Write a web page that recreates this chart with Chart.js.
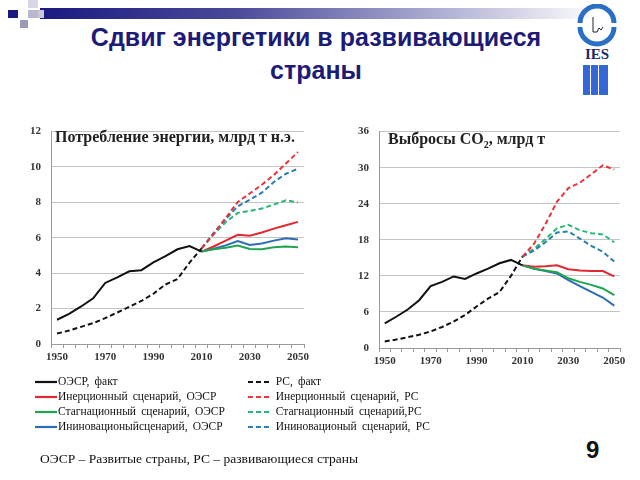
<!DOCTYPE html>
<html>
<head>
<meta charset="utf-8">
<script src="https://cdn.jsdelivr.net/npm/chart.js@4.4.1/dist/chart.umd.min.js"></script>
<style>
  html, body { margin:0; padding:0; background:#fff; }
  body { width:640px; height:480px; position:relative; overflow:hidden; font-family:"Liberation Serif", serif; }
  .abs { position:absolute; }
  #title { left:40px; width:552px; top:21px; text-align:center; font-family:"Liberation Sans", Arial, sans-serif; font-weight:bold; font-size:25px; line-height:33px; color:#1c1c78; }
  .ctitle { font-family:"Liberation Serif", serif; font-weight:bold; color:#222; white-space:nowrap; }
  .leg { font-size:11.5px; color:#111; white-space:nowrap; height:14px; line-height:14px; }
  .leg svg { vertical-align:middle; margin-right:1px; }
</style>
</head>
<body>
<script>
// ---------- data ----------
const years = ['1950','1955','1960','1965','1970','1975','1980','1985','1990','1995','2000','2005','2010','2015','2020','2025','2030','2035','2040','2045','2050'];
const xTickLabels = ['1950','1970','1990','2010','2030','2050'];
const energyTicks = [0,2,4,6,8,10,12];
const co2Ticks = [0,6,12,18,24,30,36];

// Energy consumption, bn toe (history 1950-2010)
const oecdFactE = [1.37,1.70,2.12,2.58,3.45,3.76,4.11,4.17,4.61,4.96,5.35,5.53,5.22];
const pcFactE   = [0.59,0.76,0.97,1.18,1.46,1.78,2.10,2.43,2.84,3.36,3.67,4.60,5.40];
// scenarios 2010-2050
const oecdInertE = [5.22,5.51,5.84,6.17,6.12,6.30,6.52,6.71,6.90];
const oecdStagE  = [5.22,5.35,5.44,5.56,5.37,5.36,5.46,5.51,5.46];
const oecdInnovE = [5.22,5.38,5.57,5.81,5.60,5.68,5.84,5.98,5.90];
const pcInertE   = [5.40,6.21,7.12,8.02,8.50,9.00,9.55,10.20,10.85];
const pcStagE    = [5.40,6.20,6.88,7.41,7.52,7.65,7.88,8.12,8.00];
const pcInnovE   = [5.40,6.28,7.05,7.78,8.15,8.55,9.15,9.62,9.90];

// CO2 emissions, bn t (history 1950-2010)
const oecdFactC = [4.1,5.2,6.4,7.95,10.3,11.0,11.9,11.5,12.4,13.2,14.1,14.65,13.75];
const pcFactC   = [1.1,1.4,1.8,2.2,2.75,3.5,4.4,5.5,6.9,8.2,9.3,12.0,15.2];
// scenarios 2010-2050
const oecdInertC = [13.75,13.5,13.6,13.75,13.1,12.9,12.8,12.8,11.9];
const oecdStagC  = [13.75,13.2,12.9,12.6,11.6,11.0,10.5,9.9,8.8];
const oecdInnovC = [13.75,13.2,12.8,12.4,11.3,10.3,9.34,8.4,7.05];
const pcInertC   = [15.2,17.3,20.6,24.3,26.6,27.5,28.9,30.4,29.7];
const pcStagC    = [15.2,16.5,18.1,19.9,20.5,19.6,19.1,18.9,17.6];
const pcInnovC   = [15.2,16.2,17.6,19.2,19.4,18.2,17.0,16.0,14.4];

const legendLeft  = ['ОЭСР, факт','Инерционный сценарий, ОЭСР','Стагнационный сценарий, ОЭСР','Ининовационыйсценарий, ОЭСР'];
const legendRight = ['РС, факт','Инерционный сценарий, РС','Стагнационный сценарий,РС','Ининовационый сценарий, РС'];
</script>

<!-- header decoration -->
<div class="abs" style="left:40px;top:8px;width:560px;height:11px;background:linear-gradient(to right,#1a1a80 0%,#4a4a9a 35%,#b8b8d8 75%,#ffffff 100%);"></div>
<div class="abs" style="left:8px;top:10px;width:10px;height:8px;background:#1a1a80;"></div>
<div class="abs" style="left:28px;top:0px;width:10px;height:8px;background:#d8d8e4;"></div>
<div class="abs" style="left:28px;top:10px;width:10px;height:8px;background:#b8b8cc;"></div>
<div class="abs" style="left:20px;top:20px;width:8px;height:8px;background:#9a9ab4;"></div>
<div class="abs" style="left:38px;top:10px;width:6px;height:8px;background:#c8c8d8;"></div>

<!-- logo -->
<svg class="abs" style="left:575px;top:4px" width="46" height="94" viewBox="0 0 46 94">
  <path d="M5 19 A17 17 0 0 1 39 19" fill="none" stroke="#2a6fc6" stroke-width="5"/>
  <path d="M5 23 A17 17 0 0 0 39 23" fill="none" stroke="#2a6fc6" stroke-width="5"/>
  <path d="M18 13 L18 28 L22 28 L24 24 L26 26 L28 23" fill="none" stroke="#223" stroke-width="1"/>
  <text x="22" y="55" text-anchor="middle" font-family="Liberation Serif" font-weight="bold" font-size="15" fill="#1a2a6a">IES</text>
  <rect x="8" y="61" width="7" height="30" fill="#3466d8"/>
  <rect x="16" y="61" width="7" height="30" fill="#3466d8"/>
  <rect x="24" y="61" width="9" height="30" fill="#3466d8"/>
</svg>

<div id="title" class="abs">Сдвиг энергетики в развивающиеся<br>страны</div>

<canvas id="c1" class="abs" style="left:0;top:115px" width="320" height="260"></canvas>
<canvas id="c2" class="abs" style="left:320px;top:115px" width="320" height="260"></canvas>

<div class="abs ctitle" style="left:55px;top:128px;font-size:16px;">Потребление энергии, млрд т н.э.</div>
<div class="abs ctitle" style="left:388px;top:130px;font-size:16px;">Выбросы CO<sub style="font-size:10px">2</sub>, млрд т</div>

<div id="legend"></div>

<div class="abs" style="left:40px;top:451px;font-size:13.5px;color:#111;white-space:nowrap;">ОЭСР – Развитые страны, РС – развивающиеся страны</div>
<div class="abs" style="left:586px;top:436px;font-family:'Liberation Sans',Arial,sans-serif;font-weight:bold;font-size:24px;color:#111;">9</div>

<script>
const C = {
  black:'#111111',
  red:'#e0282e', green:'#1fa450', blue:'#2e6cb4',
  redD:'#e8343c', greenD:'#2bb673', blueD:'#2a7eb2'
};
const pad = arr => Array(years.length - arr.length).fill(null).concat(arr);
const padEnd = arr => arr.concat(Array(years.length - arr.length).fill(null));
const ds = (label, data, color, dashed) => ({
  label, data, borderColor: color, backgroundColor: color,
  borderWidth: 2, pointRadius: 0, tension: 0, fill: false,
  borderDash: dashed ? [5,3] : [], spanGaps: false
});
const tickFont = { family:'Liberation Serif', size:11, weight:'bold' };

function makeChart(id, sets, yTicks, yAxisW, xAxisH, padTop, padRight, yPad) {
  new Chart(document.getElementById(id), {
    type:'line',
    data:{ labels: years, datasets: sets },
    options:{
      responsive:false, animation:false,
      layout:{ padding:{ top:padTop, right:padRight, left:0, bottom:0 } },
      plugins:{ legend:{display:false}, tooltip:{enabled:false}, title:{display:false} },
      scales:{
        x:{
          type:'category', offset:true,
          grid:{ display:true, drawOnChartArea:false, offset:true, tickLength:4, color:'#9a9a9a' },
          border:{ color:'#9a9a9a' },
          ticks:{ autoSkip:false, maxRotation:0, minRotation:0, padding:3, color:'#333', font:tickFont,
            callback:(v,i)=> xTickLabels.includes(years[i]) ? years[i] : '' },
          afterFit: s => { s.height = xAxisH; }
        },
        y:{
          min: yTicks[0], max: yTicks[yTicks.length-1],
          afterBuildTicks: s => { s.ticks = yTicks.map(v => ({value:v})); },
          grid:{ color:'#c4c4c4', drawTicks:false },
          border:{ color:'#9a9a9a' },
          ticks:{ padding:yPad, color:'#333', font:tickFont },
          afterFit: s => { s.width = yAxisW; }
        }
      }
    }
  });
}

makeChart('c1', [
  ds('РС, факт', padEnd(pcFactE), C.black, true),
  ds('Инерционный сценарий, РС', pad(pcInertE), C.redD, true),
  ds('Ининовационый сценарий, РС', pad(pcInnovE), C.blueD, true),
  ds('Стагнационный сценарий, РС', pad(pcStagE), C.greenD, true),
  ds('ОЭСР, факт', padEnd(oecdFactE), C.black, false),
  ds('Стагнационный сценарий, ОЭСР', pad(oecdStagE), C.green, false),
  ds('Ининовационый сценарий, ОЭСР', pad(oecdInnovE), C.blue, false),
  ds('Инерционный сценарий, ОЭСР', pad(oecdInertE), C.red, false)
], energyTicks, 51, 31, 12, 16, 10);

makeChart('c2', [
  ds('РС, факт', padEnd(pcFactC), C.black, true),
  ds('Инерционный сценарий, РС', pad(pcInertC), C.redD, true),
  ds('Ининовационый сценарий, РС', pad(pcInnovC), C.blueD, true),
  ds('Стагнационный сценарий, РС', pad(pcStagC), C.greenD, true),
  ds('ОЭСР, факт', padEnd(oecdFactC), C.black, false),
  ds('Стагнационный сценарий, ОЭСР', pad(oecdStagC), C.green, false),
  ds('Ининовационый сценарий, ОЭСР', pad(oecdInnovC), C.blue, false),
  ds('Инерционный сценарий, ОЭСР', pad(oecdInertC), C.red, false)
], co2Ticks, 59, 27, 15, 20, 10);

// legend (HTML)
const legColsL = [C.black, C.red, C.green, C.blue];
const legColsR = [C.black, C.redD, C.greenD, C.blueD];
const rowsY = [374, 389, 404, 419];
const legEl = document.getElementById('legend');
function sample(color, dashed, w) {
  return `<svg width="${w}" height="4"><line x1="0" y1="2" x2="${w}" y2="2" stroke="${color}" stroke-width="2.2" ${dashed ? 'stroke-dasharray="5,3"' : ''}/></svg>`;
}
legendLeft.forEach((t,i) => {
  const d = document.createElement('div');
  d.className = 'abs leg';
  d.style.left = '35px'; d.style.top = rowsY[i] + 'px';
  d.innerHTML = sample(legColsL[i], false, 22) + t.replace(/ /g,'&nbsp;&#8201;');
  legEl.appendChild(d);
});
legendRight.forEach((t,i) => {
  const d = document.createElement('div');
  d.className = 'abs leg';
  d.style.left = '248px'; d.style.top = rowsY[i] + 'px';
  d.innerHTML = sample(legColsR[i], true, 21) + '&nbsp;&nbsp;' + t.replace(/ /g,'&nbsp;&#8201;');
  legEl.appendChild(d);
});
</script>
</body>
</html>
